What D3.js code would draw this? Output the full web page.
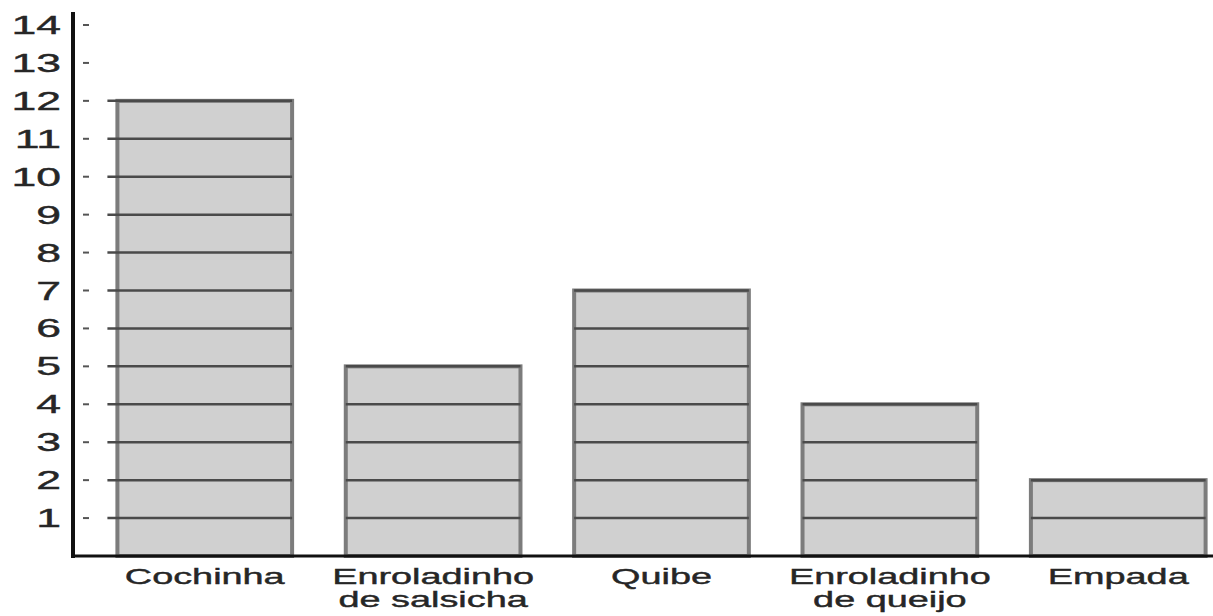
<!DOCTYPE html>
<html>
<head>
<meta charset="utf-8">
<script src="https://cdn.jsdelivr.net/npm/d3@7"></script>
<style>
  body { margin: 0; background: #fff; }
  text { font-family: "Liberation Sans", Arial, sans-serif; fill: #262626; stroke: #262626; stroke-width: 0.4px; }
</style>
</head>
<body>
<svg id="chart" width="1213" height="616"></svg>
<script>
// data
const categories = [
  ["Cochinha"],
  ["Enroladinho", "de salsicha"],
  ["Quibe"],
  ["Enroladinho", "de queijo"],
  ["Empada"],
];
const values = [12, 5, 7, 4, 2];
const yTicks = [1, 2, 3, 4, 5, 6, 7, 8, 9, 10, 11, 12, 13, 14];

const svg = d3.select("#chart");
const stretchX = 1.72; // labels in the picture are stretched sideways
const stretchY = 1.78;

const x = d3
  .scaleBand()
  .domain(d3.range(values.length))
  .range([90, 1233])
  .paddingInner(0.235)
  .paddingOuter(0.12);
const y = d3.scaleLinear().domain([0, 14]).range([556, 25]);

// bars
const bars = svg
  .append("g")
  .selectAll("g")
  .data(values)
  .enter()
  .append("g")
  .attr("transform", (d, i) => `translate(${x(i)}, 0)`);
bars
  .append("rect")
  .attr("x", 0)
  .attr("y", (d) => y(d))
  .attr("width", x.bandwidth())
  .attr("height", (d) => y(0) - y(d))
  .style("fill", "#d0d0d0")
  .style("stroke", "#7c7c7c")
  .style("stroke-width", 4);
bars.each(function (d, i) {
  d3.select(this)
    .selectAll("line")
    .data(d3.range(1, d + 1))
    .enter()
    .append("line")
    .attr("x1", i === 0 ? -10 : 0)
    .attr("x2", x.bandwidth())
    .attr("y1", (v) => y(v))
    .attr("y2", (v) => y(v))
    .style("stroke", "#4a4a4a")
    .style("stroke-width", 2.5);
});

// y ticks: short detached dashes
const ticks = svg.append("g");
ticks
  .selectAll("line")
  .data(yTicks)
  .enter()
  .append("line")
  .attr("x1", 83)
  .attr("x2", 89)
  .attr("y1", (d) => y(d))
  .attr("y2", (d) => y(d))
  .style("stroke", "#555")
  .style("stroke-width", 2);
ticks
  .selectAll("text")
  .data(yTicks)
  .enter()
  .append("text")
  .attr("transform", (d) => `translate(61, ${y(d) + 9}) scale(${stretchY}, 1)`)
  .attr("text-anchor", "end")
  .style("font-size", "25px")
  .text((d) => d);

// axes lines
svg
  .append("line")
  .attr("x1", 73)
  .attr("x2", 73)
  .attr("y1", 12)
  .attr("y2", y(0) + 2)
  .style("stroke", "#111")
  .style("stroke-width", 4);
svg
  .append("line")
  .attr("x1", 71)
  .attr("x2", 1213)
  .attr("y1", y(0))
  .attr("y2", y(0))
  .style("stroke", "#111")
  .style("stroke-width", 3);

// category labels
const labels = svg
  .append("g")
  .selectAll("text")
  .data(categories)
  .enter()
  .append("text")
  .attr(
    "transform",
    (d, i) => `translate(${x(i) + x.bandwidth() / 2}, 584) scale(${stretchX}, 1)`
  )
  .attr("text-anchor", "middle")
  .style("font-size", "22px");
labels
  .selectAll("tspan")
  .data((d) => d)
  .enter()
  .append("tspan")
  .attr("x", 0)
  .attr("dy", (d, i) => (i === 0 ? 0 : 23))
  .text((d) => d);
</script>
</body>
</html>
